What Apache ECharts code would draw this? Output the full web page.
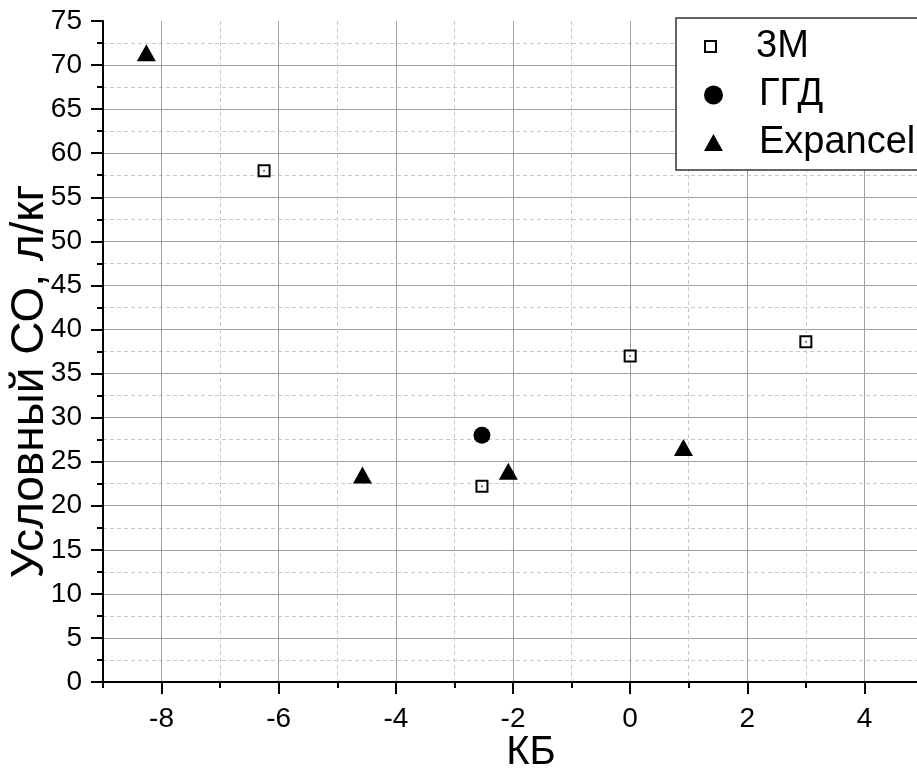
<!DOCTYPE html>
<html>
<head>
<meta charset="utf-8">
<script src="https://cdn.jsdelivr.net/npm/echarts@6/dist/echarts.min.js"></script>
<style>
  html, body { margin: 0; padding: 0; background: #fff; }
  #chart { width: 917px; height: 782px; }
</style>
</head>
<body>
<div id="chart"></div>
<script>
// Series names and measured points (КБ, условный СО)
const seriesNames = ['3M', 'ГГД', 'Expancel'];
const kb3M = [-6.25, -2.53, 0.0, 3.0];
const co3M = [58.0, 22.2, 37.0, 38.6];
const kbGGD = [-2.53];
const coGGD = [28.0];
const kbExpancel = [-8.26, -4.57, -2.08, 0.91];
const coExpancel = [71.4, 23.5, 23.9, 26.6];

// Axis ranges and major tick values
const xMin = -9, xMax = 5;
const xMajorTicks = [-8, -6, -4, -2, 0, 2, 4];
const yMin = 0, yMax = 75, yStep = 5;
const xTitle = 'КБ';
const yTitle = 'Условный СО, л/кг';

const FONT = '"Liberation Sans", Arial, sans-serif';
const pairs = (xs, ys) => xs.map((x, i) => [x, ys[i]]);

const chart = echarts.init(document.getElementById('chart'), null, { renderer: 'canvas' });

const baseX = {
  type: 'value', min: xMin, max: xMax, interval: 1, position: 'bottom',
  gridIndex: 0,
  axisLine: { show: false, onZero: false },
  axisTick: { show: false },
  axisLabel: { show: false },
  splitLine: { show: false }
};

const legendText = { fontSize: 38, lineHeight: 38, color: '#000', fontFamily: FONT };
const legendLeft = 704;

const option = {
  backgroundColor: '#fff',
  animation: false,
  grid: { left: 103, right: -6, top: 21, bottom: 100, containLabel: false, outerBoundsMode: 'none' },
  xAxis: [
    Object.assign({}, baseX, {
      name: xTitle,
      nameLocation: 'middle',
      nameGap: 51,
      nameMoveOverlap: false,
      nameTextStyle: { fontSize: 40, color: '#000', fontFamily: FONT, padding: [0, 0, 0, 36] },
      axisLine: { show: true, onZero: false, lineStyle: { color: '#000', width: 2 } },
      axisTick: { show: true, length: 6, lineStyle: { color: '#000', width: 2 } },
      axisLabel: {
        show: true, margin: 23, fontSize: 28, color: '#000', fontFamily: FONT,
        formatter: v => (xMajorTicks.indexOf(v) >= 0 ? String(v) : '')
      },
      // minor grid at odd values
      splitLine: { show: true, lineStyle: { color: ['#c8c8c8', 'rgba(0,0,0,0)'], width: 1, type: [4, 3] } }
    }),
    Object.assign({}, baseX, {
      // major grid at even values
      splitLine: { show: true, lineStyle: { color: ['rgba(0,0,0,0)', '#a0a0a0'], width: 1 } }
    }),
    Object.assign({}, baseX, {
      // long ticks at labelled values
      axisTick: { show: true, length: 12, customValues: xMajorTicks, lineStyle: { color: '#000', width: 2 } }
    })
  ],
  yAxis: {
    type: 'value', min: yMin, max: yMax, interval: yStep,
    name: yTitle,
    nameLocation: 'middle',
    nameRotate: 90,
    nameGap: 50,
    nameMoveOverlap: false,
    nameTextStyle: { fontSize: 46, color: '#000', fontFamily: FONT, padding: [0, 60, 0, 0] },
    axisLine: { show: true, onZero: false, lineStyle: { color: '#000', width: 2 } },
    axisTick: { show: true, length: 12, lineStyle: { color: '#000', width: 2 } },
    minorTick: { show: true, splitNumber: 2, length: 6, lineStyle: { color: '#000', width: 2 } },
    axisLabel: { margin: 21, fontSize: 28, color: '#000', fontFamily: FONT },
    splitLine: { show: true, showMaxLine: false, lineStyle: { color: '#a0a0a0', width: 1 } },
    minorSplitLine: { show: true, lineStyle: { color: '#c8c8c8', width: 1, type: [4, 3] } }
  },
  graphic: [{
    type: 'rect', z: 3,
    shape: { x: 676, y: 18, width: 280, height: 152 },
    style: { fill: '#fff', stroke: '#333', lineWidth: 1.5 }
  }],
  legend: [
    {
      data: [seriesNames[0]], left: legendLeft, top: 27.5, padding: 0, z: 5,
      itemWidth: 81, itemHeight: 11, icon: 'path://M0,0H10V10H0Z',
      itemStyle: { color: '#fff', borderColor: '#000', borderWidth: 2 },
      textStyle: legendText
    },
    {
      data: [seriesNames[1]], left: legendLeft, top: 76, padding: 0, z: 5,
      itemWidth: 81, itemHeight: 19, icon: 'circle',
      itemStyle: { color: '#000', borderWidth: 0 },
      textStyle: legendText
    },
    {
      data: [seriesNames[2]], left: legendLeft, top: 123.5, padding: 0, z: 5,
      itemWidth: 81, itemHeight: 17, icon: 'path://M5,0L10,9L0,9Z',
      itemStyle: { color: '#000', borderWidth: 0 },
      textStyle: legendText
    }
  ],
  series: [
    {
      name: seriesNames[0], type: 'scatter', xAxisIndex: 0,
      data: pairs(kb3M, co3M),
      symbol: 'rect', symbolSize: 11,
      itemStyle: { color: '#fff', borderColor: '#000', borderWidth: 2, opacity: 1 },
      z: 3
    },
    {
      // small centre dot inside each open square
      name: seriesNames[0] + ' centre', type: 'scatter', xAxisIndex: 0,
      data: pairs(kb3M, co3M),
      symbol: 'rect', symbolSize: 2,
      itemStyle: { color: '#555' },
      z: 4, silent: true
    },
    {
      name: seriesNames[1], type: 'scatter', xAxisIndex: 0,
      data: pairs(kbGGD, coGGD),
      symbol: 'circle', symbolSize: 17,
      itemStyle: { color: '#000', opacity: 1 },
      z: 3
    },
    {
      name: seriesNames[2], type: 'scatter', xAxisIndex: 0,
      data: pairs(kbExpancel, coExpancel),
      symbol: 'triangle', symbolSize: [19, 17],
      itemStyle: { color: '#000', opacity: 1 },
      z: 3
    }
  ]
};

chart.setOption(option);
</script>
</body>
</html>
